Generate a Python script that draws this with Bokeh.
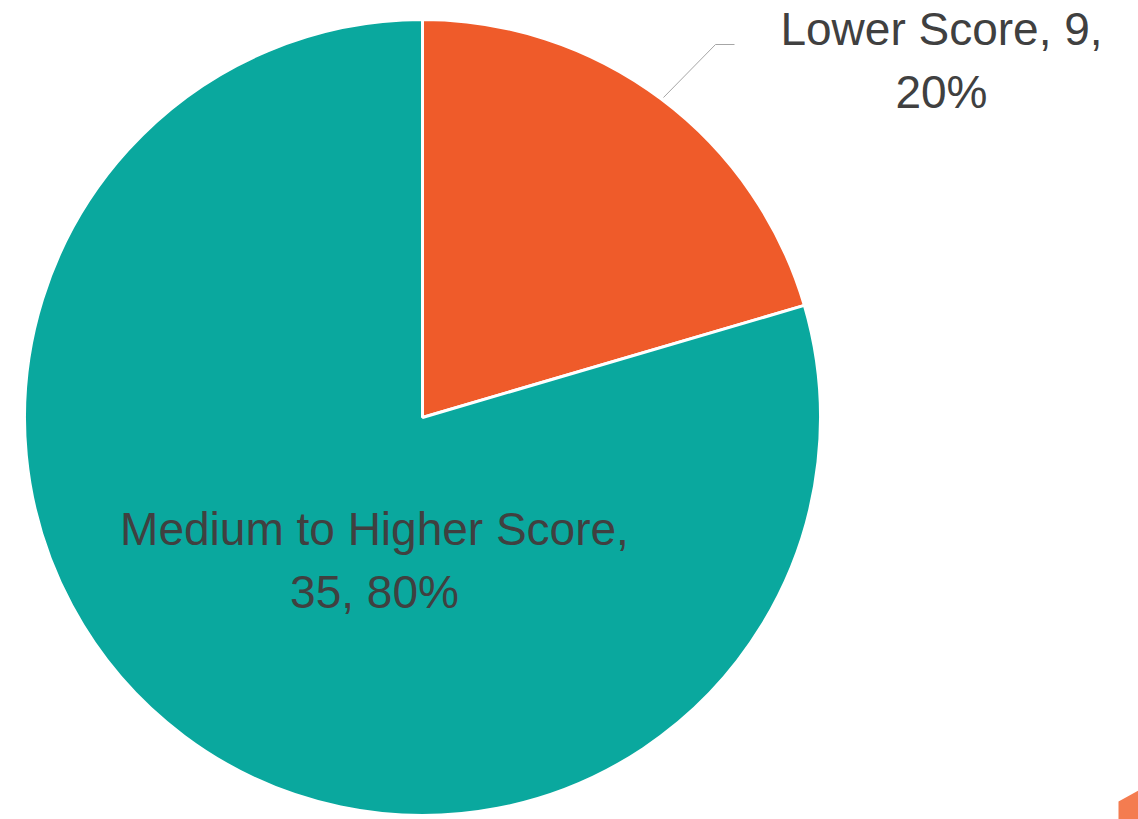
import math
from bokeh.plotting import figure
from bokeh.models import Range1d, ColumnDataSource
from bokeh.core.properties import value
from bokeh.embed import file_html
from bokeh.resources import INLINE

# ---- data ----
categories = ["Lower Score", "Medium to Higher Score"]
counts = [9, 35]
percents = [20, 80]
colors = ["#EF5B2A", "#0AA89E"]

# ---- layout constants ----
W, H = 1138, 819
CX, CY, R = 422, H - 417, 398

total = sum(counts)
starts, ends = [], []
cum = 0
for c in counts:
    a0 = math.pi / 2 - 2 * math.pi * cum / total
    cum += c
    a1 = math.pi / 2 - 2 * math.pi * cum / total
    starts.append(a1)
    ends.append(a0)

src = ColumnDataSource(dict(start=starts, end=ends, color=colors,
                            x=[CX] * len(counts), y=[CY] * len(counts)))

p = figure(width=W, height=H, output_backend="svg", toolbar_location=None,
           x_range=Range1d(0, W), y_range=Range1d(0, H), min_border=0)
p.axis.visible = False
p.grid.visible = False
p.outline_line_color = None
p.background_fill_color = "white"

p.wedge(x="x", y="y", radius=R, start_angle="start", end_angle="end",
        fill_color="color", line_color="white", line_width=3, source=src)

# leader line for the small slice label
p.line(x=[663, 715, 734], y=[H - 97, H - 44, H - 44], line_color="#A6A6A6", line_width=1)

labels = [f"{categories[0]}, {counts[0]},\n{percents[0]}%",
          f"{categories[1]},\n{counts[1]}, {percents[1]}%"]
lab_x = [941, 374]
lab_y = [H - 60, H - 560]
p.text(x=lab_x, y=lab_y, text=labels, text_align="center", text_baseline="middle",
       text_font=value("Liberation Sans"), text_font_size="46px",
       text_color="#404040", text_line_height=1.2)

# decorative corner shape from the slide
p.patch(x=[1118, 1138, 1138, 1118], y=[H - 801, H - 790, 0, 0],
        fill_color="#F47C50", line_color=None)

open("out.html", "w").write(file_html(p, INLINE))
